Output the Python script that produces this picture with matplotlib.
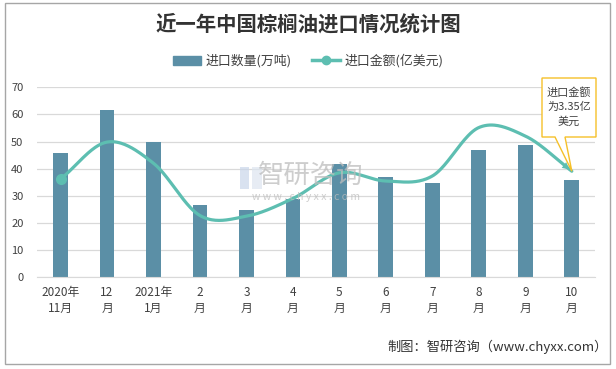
import numpy as np
import matplotlib
matplotlib.use("Agg")
import matplotlib.pyplot as plt
from matplotlib.patches import Patch, Rectangle, Polygon
from matplotlib.lines import Line2D
from matplotlib.transforms import IdentityTransform

plt.rcParams["font.family"] = ["Noto Sans CJK SC", "DejaVu Sans"]

# data
months = ["2020年\n11月", "12\n月", "2021年\n1月", "2\n月", "3\n月", "4\n月",
          "5\n月", "6\n月", "7\n月", "8\n月", "9\n月", "10\n月"]
volume = [45.8, 61.6, 49.9, 26.6, 24.8, 28.8, 41.7, 37.0, 34.8, 46.9, 48.7, 35.8]   # 万吨
amount = [3.10, 4.27, 3.60, 1.95, 1.93, 2.49, 3.30, 3.04, 3.20, 4.73, 4.46, 3.35]   # 亿美元

BAR = "#5B8FA6"
LINE = "#5DBEB1"
GRID = "#D9D9D9"
TXT = "#404040"


def smooth(xs, ys, n=40):
    """Excel-style smoothed line (Catmull-Rom through every point)."""
    xs = np.asarray(xs, float); ys = np.asarray(ys, float)
    px = np.concatenate([[2 * xs[0] - xs[1]], xs, [2 * xs[-1] - xs[-2]]])
    py = np.concatenate([[2 * ys[0] - ys[1]], ys, [2 * ys[-1] - ys[-2]]])
    outx, outy = [], []
    t = np.linspace(0, 1, n)
    for i in range(1, len(px) - 2):
        for p, out in ((px, outx), (py, outy)):
            p0, p1, p2, p3 = p[i - 1], p[i], p[i + 1], p[i + 2]
            m1 = (p2 - p0) / 2; m2 = (p3 - p1) / 2
            h00 = 2 * t**3 - 3 * t**2 + 1; h10 = t**3 - 2 * t**2 + t
            h01 = -2 * t**3 + 3 * t**2; h11 = t**3 - t**2
            out.extend(h00 * p1 + h10 * m1 + h01 * p2 + h11 * m2)
    return np.array(outx), np.array(outy)


fig = plt.figure(figsize=(6.16, 3.69), dpi=100)
ax = fig.add_axes([0.0606, 0.2485, 0.9054, 0.5149])
x = np.arange(len(months))
ax.bar(x, volume, width=0.32, color=BAR, zorder=2)
ax.set_xlim(-0.5, len(months) - 0.5)
ax.set_ylim(0, 70)
ax.set_yticks(range(0, 71, 10))
ax.grid(axis="y", color=GRID, lw=0.9, zorder=0)
for s in ("top", "right", "left"):
    ax.spines[s].set_visible(False)
ax.spines["bottom"].set_color(GRID)
ax.tick_params(axis="y", length=0, pad=10, labelsize=8, labelcolor=TXT)
ax.set_xticks(x)
ax.set_xticklabels(months, fontsize=8.5, color=TXT, linespacing=1.35)
ax.tick_params(axis="x", length=0, pad=6)

# amount on a hidden second scale
ax2 = ax.twinx()
ax2.set_ylim(0, 6)
ax2.axis("off")
sx, sy = smooth(x, amount)
ax2.plot(sx, sy, color=LINE, lw=2.3, solid_capstyle="round", zorder=3)
ax2.plot(x[0], amount[0], "o", color=LINE, ms=7, zorder=4)
ax2.annotate("", xy=(x[-1], amount[-1]), xytext=(sx[-6], sy[-6]),
             arrowprops=dict(arrowstyle="-|>", color=LINE, lw=0, mutation_scale=13))

# watermark
fig.text(0.505, 1 - 175 / 369, "智研咨询", fontsize=19, color="#BDBDBD", alpha=0.75,
         ha="center", va="center")
fig.text(0.497, 1 - 197 / 369, "w w w . c h y x x . c o m", fontsize=7.5, color="#BDBDBD",
         alpha=0.75, ha="center", va="center")
fig.patches.append(Rectangle((240 / 616, 1 - 189 / 369), 9 / 616, 22 / 369,
                             transform=fig.transFigure, fc="#C9D6EA", ec="none", alpha=0.7))
fig.patches.append(Rectangle((252 / 616, 1 - 189 / 369), 10 / 616, 22 / 369,
                             transform=fig.transFigure, fc="#DDE5F0", ec="none", alpha=0.7))

# callout for the last point
fig.canvas.draw()
tipx, tipy = ax2.transData.transform((x[-1], amount[-1]))
H = 369
box = [(542, H - 78), (596, H - 78), (596, H - 137), (565, H - 137),
       (tipx, tipy), (555, H - 137), (542, H - 137)]
fig.patches.append(Polygon(box, closed=True, transform=IdentityTransform(),
                           fc="white", ec="#F5C02A", lw=1, zorder=5))
fig.text(569 / 616, 1 - 107 / H, "进口金额\n为3.35亿\n美元", fontsize=8, color=TXT,
         ha="center", va="center", linespacing=1.45, zorder=6)

# title, legend, source, frame
fig.text(0.5, 1 - 24 / H, "近一年中国棕榈油进口情况统计图", fontsize=14.7,
         fontweight="bold", color="#333333", ha="center", va="center")
handles = [Patch(color=BAR, label="进口数量(万吨)"),
           Line2D([], [], color=LINE, lw=2.5, marker="o", ms=6, label="进口金额(亿美元)")]
fig.legend(handles=handles, loc="center", bbox_to_anchor=(0.5, 1 - 61 / H), ncol=2,
           frameon=False, fontsize=9.3, handlelength=2.2, columnspacing=1.6,
           handletextpad=0.3, labelcolor=TXT)
fig.text(608 / 616, 1 - 347 / H, "制图：智研咨询（www.chyxx.com）", fontsize=9.5,
         color="#333333", ha="right", va="center")
fig.patches.append(Rectangle((5 / 616, 1 - 364 / H), 605 / 616, 361 / H,
                             transform=fig.transFigure, fill=False, ec="#A6A6A6", lw=1))

fig.savefig("out.png", dpi=100)
